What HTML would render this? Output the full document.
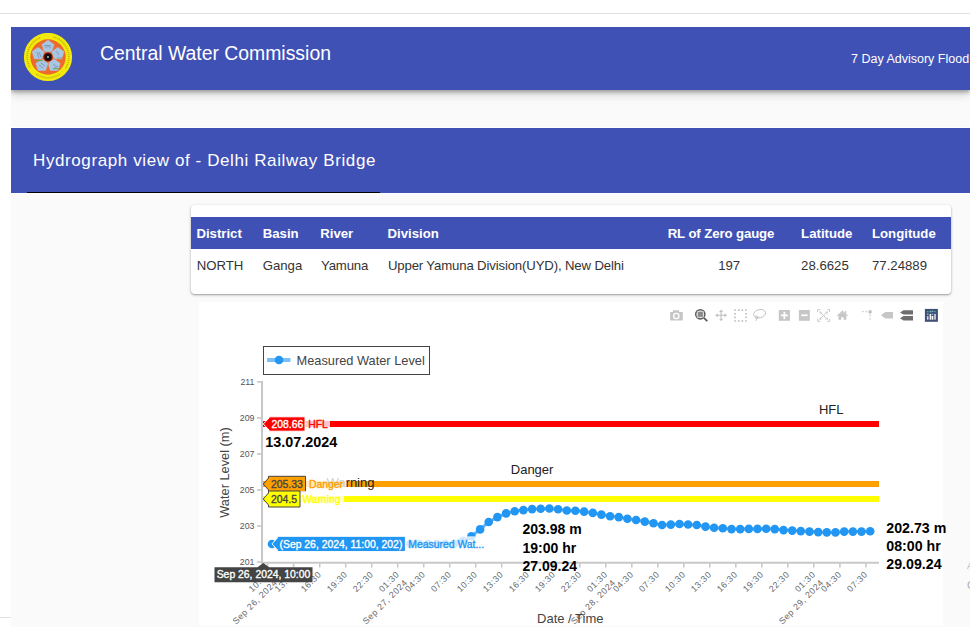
<!DOCTYPE html>
<html><head><meta charset="utf-8">
<style>
html,body{margin:0;padding:0;width:970px;height:644px;overflow:hidden;background:#fff;font-family:"Liberation Sans", sans-serif;}
.abs{position:absolute;}
#topline{left:0;top:13px;width:970px;height:1px;background:#dfe2e6;}
#botline{left:0;top:617px;width:11px;height:1px;background:#dfe2e6;}
#page{left:11px;top:27px;width:959px;height:600px;background:#fafafa;overflow:hidden;}
#hdr{left:0;top:0;width:959px;height:63px;background:#3f51b5;box-shadow:0 2px 4px rgba(0,0,0,0.3),0 5px 9px rgba(0,0,0,0.14);}
#title{left:100px;top:41px;color:#fff;font-size:19.4px;line-height:24px;white-space:nowrap;}
#adv{left:851px;top:51px;color:#fff;font-size:12.5px;line-height:16px;white-space:nowrap;}
#band{left:11px;top:128px;width:959px;height:65px;background:#3f51b5;}
#whiteA{left:11px;top:127px;width:959px;height:1px;background:#fff;}
#whiteB{left:11px;top:193px;width:959px;height:1px;background:#fff;}
#uline{left:27px;top:192px;width:353px;height:1px;background:#000;}
#htitle{left:33px;top:151px;color:#fff;font-size:17px;letter-spacing:0.6px;line-height:20px;white-space:nowrap;}
#card{left:191px;top:205px;width:760px;height:89px;background:#fff;border-radius:4px;box-shadow:0 1px 3px rgba(0,0,0,0.3),0 1px 1px rgba(0,0,0,0.12);}
#thead{left:191px;top:217px;width:760px;height:32px;background:#3f51b5;}
.th{position:absolute;top:225.5px;color:#fff;font-weight:bold;font-size:13.2px;line-height:16px;white-space:nowrap;}
.td{position:absolute;top:257.5px;color:#333;font-size:13.2px;line-height:16px;white-space:nowrap;}
svg text{font-family:"Liberation Sans", sans-serif;}
</style></head><body>
<div class="abs" id="topline"></div>
<div class="abs" id="page"><div class="abs" id="hdr"></div></div>
<div class="abs" id="botline"></div>
<svg class="abs" style="left:23px;top:33px" width="50" height="49" viewBox="0 0 50 49">
  <circle cx="25" cy="24" r="24.1" fill="#f2ea0a"/>
  <path d="M30.38,3.91 A20.8,20.8 0 0 1 42.04,35.93 M36.93,41.04 A20.8,20.8 0 0 1 13.07,41.04 M6.99,34.40 A20.8,20.8 0 0 1 17.89,4.45" fill="none" stroke="#8a6a10" stroke-width="1.5" stroke-dasharray="1.1 0.9" opacity="0.45"/>
  <circle cx="25" cy="24" r="17.7" fill="#ee6a2c"/>
  <g fill="#a8c6e2" stroke="#ee6a2c" stroke-width="0.6"><polygon points="25.00,6.60 31.66,11.44 29.11,19.26 20.89,19.26 18.34,11.44"/><polygon points="41.55,18.62 39.01,26.45 30.78,26.45 28.23,18.62 34.89,13.79"/><polygon points="35.23,38.08 27.00,38.08 24.46,30.25 31.11,25.41 37.77,30.25"/><polygon points="14.77,38.08 12.23,30.25 18.89,25.41 25.54,30.25 23.00,38.08"/><polygon points="8.45,18.62 15.11,13.79 21.77,18.62 19.22,26.45 10.99,26.45"/></g>
  <g fill="none" stroke="#5f7f99" stroke-width="0.8" opacity="0.7">
    <path d="M21,12.5 h7 M22,15 l3,-2 l3,2"/>
    <path d="M33,18 l3,4 M34,25 h5"/>
    <path d="M30,31 l4,3 M31,35 l4,-2"/>
    <path d="M16,32 l4,3 M18,30 l4,3"/>
    <path d="M14,19 l2,6 M16,19 l2,5"/>
  </g>
  <g fill="#6aa84f" opacity="0.8"><rect x="12.5" y="27" width="7" height="1.3"/><rect x="30" y="35" width="6" height="1.3"/></g>
  <circle cx="25" cy="24" r="4.6" fill="#7a140c"/>
  <circle cx="25" cy="24" r="3.4" fill="#111"/>
  <circle cx="25" cy="24" r="0.9" fill="#ccc"/>
</svg>
<div class="abs" id="title">Central Water Commission</div>
<div class="abs" id="adv">7 Day Advisory Flood</div>
<div class="abs" id="whiteA"></div>
<div class="abs" id="band"></div>
<div class="abs" id="uline"></div>
<div class="abs" id="whiteB"></div>
<div class="abs" id="htitle">Hydrograph view of - Delhi Railway Bridge</div>
<div class="abs" id="card"></div>
<div class="abs" id="thead"></div>
<div class="th" style="left:196.4px;letter-spacing:0px">District</div>
<div class="th" style="left:262.7px;letter-spacing:0px">Basin</div>
<div class="th" style="left:320.2px;letter-spacing:0px">River</div>
<div class="th" style="left:387.6px;letter-spacing:0px">Division</div>
<div class="th" style="left:667.7px;letter-spacing:-0.1px">RL of Zero gauge</div>
<div class="th" style="left:801.1px;letter-spacing:0px">Latitude</div>
<div class="th" style="left:872.0px;letter-spacing:0px">Longitude</div>
<div class="td" style="left:196.7px;letter-spacing:0px">NORTH</div>
<div class="td" style="left:262.7px;letter-spacing:0px">Ganga</div>
<div class="td" style="left:321.1px;letter-spacing:-0.2px">Yamuna</div>
<div class="td" style="left:387.9px;letter-spacing:-0.15px">Upper Yamuna Division(UYD), New Delhi</div>
<div class="td" style="left:718.2px;letter-spacing:0px">197</div>
<div class="td" style="left:801.1px;letter-spacing:0px">28.6625</div>
<div class="td" style="left:872.0px;letter-spacing:0px">77.24889</div>
<svg class="abs" style="left:0;top:0" width="970" height="644" viewBox="0 0 970 644">
<rect x="199" y="302" width="744" height="324" fill="#fff"/>
<line x1="262" y1="424.0" x2="879" y2="424.0" stroke="#ff0000" stroke-width="6"/>
<line x1="262" y1="484.0" x2="879" y2="484.0" stroke="#ff9f00" stroke-width="6"/>
<line x1="262" y1="499.0" x2="879" y2="499.0" stroke="#ffff00" stroke-width="6"/>
<polyline points="272.0,544.0 280.6,544.0 289.3,544.0 298.0,544.0 306.7,544.0 315.3,544.0 324.0,544.0 332.7,544.0 341.3,544.0 350.0,544.0 358.7,544.0 367.3,544.0 376.0,544.0 384.7,544.0 393.4,544.0 402.0,544.0 410.7,544.0 419.4,544.0 428.0,544.0 436.7,544.0 445.4,544.0 454.0,544.0 462.7,541.0 471.4,536.3 480.1,529.4 488.7,522.0 497.4,517.1 506.1,513.4 514.7,511.3 523.4,510.1 532.1,509.1 540.7,508.8 549.4,508.5 558.1,509.3 566.8,510.5 575.4,510.8 584.1,511.6 592.8,512.9 601.4,514.6 610.1,516.2 618.8,517.1 627.4,518.7 636.1,520.0 644.8,521.6 653.5,523.3 662.1,525.0 670.8,524.6 679.5,524.0 688.1,524.5 696.8,525.0 705.5,526.6 714.1,527.7 722.8,528.3 731.5,529.1 740.2,529.1 748.8,528.9 757.5,528.9 766.2,528.8 774.8,529.1 783.5,530.1 792.2,530.6 800.8,531.1 809.5,531.6 818.2,532.1 826.8,532.4 835.5,532.4 844.2,531.6 852.9,531.6 861.5,531.6 870.2,531.3" fill="none" stroke="#2196f3" stroke-opacity="0.7" stroke-width="3"/>
<circle cx="272.0" cy="544.0" r="4.3" fill="#2196f3"/>
<circle cx="280.6" cy="544.0" r="4.3" fill="#2196f3"/>
<circle cx="289.3" cy="544.0" r="4.3" fill="#2196f3"/>
<circle cx="298.0" cy="544.0" r="4.3" fill="#2196f3"/>
<circle cx="306.7" cy="544.0" r="4.3" fill="#2196f3"/>
<circle cx="315.3" cy="544.0" r="4.3" fill="#2196f3"/>
<circle cx="324.0" cy="544.0" r="4.3" fill="#2196f3"/>
<circle cx="332.7" cy="544.0" r="4.3" fill="#2196f3"/>
<circle cx="341.3" cy="544.0" r="4.3" fill="#2196f3"/>
<circle cx="350.0" cy="544.0" r="4.3" fill="#2196f3"/>
<circle cx="358.7" cy="544.0" r="4.3" fill="#2196f3"/>
<circle cx="367.3" cy="544.0" r="4.3" fill="#2196f3"/>
<circle cx="376.0" cy="544.0" r="4.3" fill="#2196f3"/>
<circle cx="384.7" cy="544.0" r="4.3" fill="#2196f3"/>
<circle cx="393.4" cy="544.0" r="4.3" fill="#2196f3"/>
<circle cx="402.0" cy="544.0" r="4.3" fill="#2196f3"/>
<circle cx="410.7" cy="544.0" r="4.3" fill="#2196f3"/>
<circle cx="419.4" cy="544.0" r="4.3" fill="#2196f3"/>
<circle cx="428.0" cy="544.0" r="4.3" fill="#2196f3"/>
<circle cx="436.7" cy="544.0" r="4.3" fill="#2196f3"/>
<circle cx="445.4" cy="544.0" r="4.3" fill="#2196f3"/>
<circle cx="454.0" cy="544.0" r="4.3" fill="#2196f3"/>
<circle cx="462.7" cy="541.0" r="4.3" fill="#2196f3"/>
<circle cx="471.4" cy="536.3" r="4.3" fill="#2196f3"/>
<circle cx="480.1" cy="529.4" r="4.3" fill="#2196f3"/>
<circle cx="488.7" cy="522.0" r="4.3" fill="#2196f3"/>
<circle cx="497.4" cy="517.1" r="4.3" fill="#2196f3"/>
<circle cx="506.1" cy="513.4" r="4.3" fill="#2196f3"/>
<circle cx="514.7" cy="511.3" r="4.3" fill="#2196f3"/>
<circle cx="523.4" cy="510.1" r="4.3" fill="#2196f3"/>
<circle cx="532.1" cy="509.1" r="4.3" fill="#2196f3"/>
<circle cx="540.7" cy="508.8" r="4.3" fill="#2196f3"/>
<circle cx="549.4" cy="508.5" r="4.3" fill="#2196f3"/>
<circle cx="558.1" cy="509.3" r="4.3" fill="#2196f3"/>
<circle cx="566.8" cy="510.5" r="4.3" fill="#2196f3"/>
<circle cx="575.4" cy="510.8" r="4.3" fill="#2196f3"/>
<circle cx="584.1" cy="511.6" r="4.3" fill="#2196f3"/>
<circle cx="592.8" cy="512.9" r="4.3" fill="#2196f3"/>
<circle cx="601.4" cy="514.6" r="4.3" fill="#2196f3"/>
<circle cx="610.1" cy="516.2" r="4.3" fill="#2196f3"/>
<circle cx="618.8" cy="517.1" r="4.3" fill="#2196f3"/>
<circle cx="627.4" cy="518.7" r="4.3" fill="#2196f3"/>
<circle cx="636.1" cy="520.0" r="4.3" fill="#2196f3"/>
<circle cx="644.8" cy="521.6" r="4.3" fill="#2196f3"/>
<circle cx="653.5" cy="523.3" r="4.3" fill="#2196f3"/>
<circle cx="662.1" cy="525.0" r="4.3" fill="#2196f3"/>
<circle cx="670.8" cy="524.6" r="4.3" fill="#2196f3"/>
<circle cx="679.5" cy="524.0" r="4.3" fill="#2196f3"/>
<circle cx="688.1" cy="524.5" r="4.3" fill="#2196f3"/>
<circle cx="696.8" cy="525.0" r="4.3" fill="#2196f3"/>
<circle cx="705.5" cy="526.6" r="4.3" fill="#2196f3"/>
<circle cx="714.1" cy="527.7" r="4.3" fill="#2196f3"/>
<circle cx="722.8" cy="528.3" r="4.3" fill="#2196f3"/>
<circle cx="731.5" cy="529.1" r="4.3" fill="#2196f3"/>
<circle cx="740.2" cy="529.1" r="4.3" fill="#2196f3"/>
<circle cx="748.8" cy="528.9" r="4.3" fill="#2196f3"/>
<circle cx="757.5" cy="528.9" r="4.3" fill="#2196f3"/>
<circle cx="766.2" cy="528.8" r="4.3" fill="#2196f3"/>
<circle cx="774.8" cy="529.1" r="4.3" fill="#2196f3"/>
<circle cx="783.5" cy="530.1" r="4.3" fill="#2196f3"/>
<circle cx="792.2" cy="530.6" r="4.3" fill="#2196f3"/>
<circle cx="800.8" cy="531.1" r="4.3" fill="#2196f3"/>
<circle cx="809.5" cy="531.6" r="4.3" fill="#2196f3"/>
<circle cx="818.2" cy="532.1" r="4.3" fill="#2196f3"/>
<circle cx="826.8" cy="532.4" r="4.3" fill="#2196f3"/>
<circle cx="835.5" cy="532.4" r="4.3" fill="#2196f3"/>
<circle cx="844.2" cy="531.6" r="4.3" fill="#2196f3"/>
<circle cx="852.9" cy="531.6" r="4.3" fill="#2196f3"/>
<circle cx="861.5" cy="531.6" r="4.3" fill="#2196f3"/>
<circle cx="870.2" cy="531.3" r="4.3" fill="#2196f3"/>
<line x1="262" y1="381" x2="262" y2="564" stroke="#c8c8c8" stroke-width="2"/>
<line x1="261" y1="562.8" x2="879" y2="562.8" stroke="#c8c8c8" stroke-width="2"/>
<line x1="257" y1="381.9" x2="262" y2="381.9" stroke="#c8c8c8" stroke-width="1.6"/>
<text x="254.5" y="385.0" text-anchor="end" font-size="8.8" fill="#555">211</text>
<line x1="257" y1="417.9" x2="262" y2="417.9" stroke="#c8c8c8" stroke-width="1.6"/>
<text x="254.5" y="421.0" text-anchor="end" font-size="8.8" fill="#555">209</text>
<line x1="257" y1="453.9" x2="262" y2="453.9" stroke="#c8c8c8" stroke-width="1.6"/>
<text x="254.5" y="457.0" text-anchor="end" font-size="8.8" fill="#555">207</text>
<line x1="257" y1="490.0" x2="262" y2="490.0" stroke="#c8c8c8" stroke-width="1.6"/>
<text x="254.5" y="493.1" text-anchor="end" font-size="8.8" fill="#555">205</text>
<line x1="257" y1="526.0" x2="262" y2="526.0" stroke="#c8c8c8" stroke-width="1.6"/>
<text x="254.5" y="529.1" text-anchor="end" font-size="8.8" fill="#555">203</text>
<line x1="257" y1="562.0" x2="262" y2="562.0" stroke="#c8c8c8" stroke-width="1.6"/>
<text x="254.5" y="565.1" text-anchor="end" font-size="8.8" fill="#555">201</text>
<line x1="267.6" y1="563.5" x2="267.6" y2="567.5" stroke="#c8c8c8" stroke-width="1.6"/>
<text transform="translate(269.8,575) rotate(-45)" text-anchor="end" font-size="8.8" letter-spacing="0.55" fill="#666"><tspan x="0" dy="0">10:30</tspan><tspan x="0" dy="1.3em">Sep 26, 2024</tspan></text>
<line x1="293.6" y1="563.5" x2="293.6" y2="567.5" stroke="#c8c8c8" stroke-width="1.6"/>
<text transform="translate(295.8,575) rotate(-45)" text-anchor="end" font-size="8.8" letter-spacing="0.55" fill="#666"><tspan x="0" dy="0">13:30</tspan></text>
<line x1="319.7" y1="563.5" x2="319.7" y2="567.5" stroke="#c8c8c8" stroke-width="1.6"/>
<text transform="translate(321.9,575) rotate(-45)" text-anchor="end" font-size="8.8" letter-spacing="0.55" fill="#666"><tspan x="0" dy="0">16:30</tspan></text>
<line x1="345.7" y1="563.5" x2="345.7" y2="567.5" stroke="#c8c8c8" stroke-width="1.6"/>
<text transform="translate(347.9,575) rotate(-45)" text-anchor="end" font-size="8.8" letter-spacing="0.55" fill="#666"><tspan x="0" dy="0">19:30</tspan></text>
<line x1="371.7" y1="563.5" x2="371.7" y2="567.5" stroke="#c8c8c8" stroke-width="1.6"/>
<text transform="translate(373.9,575) rotate(-45)" text-anchor="end" font-size="8.8" letter-spacing="0.55" fill="#666"><tspan x="0" dy="0">22:30</tspan></text>
<line x1="397.7" y1="563.5" x2="397.7" y2="567.5" stroke="#c8c8c8" stroke-width="1.6"/>
<text transform="translate(399.9,575) rotate(-45)" text-anchor="end" font-size="8.8" letter-spacing="0.55" fill="#666"><tspan x="0" dy="0">01:30</tspan><tspan x="0" dy="1.3em">Sep 27, 2024</tspan></text>
<line x1="423.7" y1="563.5" x2="423.7" y2="567.5" stroke="#c8c8c8" stroke-width="1.6"/>
<text transform="translate(425.9,575) rotate(-45)" text-anchor="end" font-size="8.8" letter-spacing="0.55" fill="#666"><tspan x="0" dy="0">04:30</tspan></text>
<line x1="449.7" y1="563.5" x2="449.7" y2="567.5" stroke="#c8c8c8" stroke-width="1.6"/>
<text transform="translate(451.9,575) rotate(-45)" text-anchor="end" font-size="8.8" letter-spacing="0.55" fill="#666"><tspan x="0" dy="0">07:30</tspan></text>
<line x1="475.7" y1="563.5" x2="475.7" y2="567.5" stroke="#c8c8c8" stroke-width="1.6"/>
<text transform="translate(477.9,575) rotate(-45)" text-anchor="end" font-size="8.8" letter-spacing="0.55" fill="#666"><tspan x="0" dy="0">10:30</tspan></text>
<line x1="501.7" y1="563.5" x2="501.7" y2="567.5" stroke="#c8c8c8" stroke-width="1.6"/>
<text transform="translate(503.9,575) rotate(-45)" text-anchor="end" font-size="8.8" letter-spacing="0.55" fill="#666"><tspan x="0" dy="0">13:30</tspan></text>
<line x1="527.7" y1="563.5" x2="527.7" y2="567.5" stroke="#c8c8c8" stroke-width="1.6"/>
<text transform="translate(529.9,575) rotate(-45)" text-anchor="end" font-size="8.8" letter-spacing="0.55" fill="#666"><tspan x="0" dy="0">16:30</tspan></text>
<line x1="553.7" y1="563.5" x2="553.7" y2="567.5" stroke="#c8c8c8" stroke-width="1.6"/>
<text transform="translate(555.9,575) rotate(-45)" text-anchor="end" font-size="8.8" letter-spacing="0.55" fill="#666"><tspan x="0" dy="0">19:30</tspan></text>
<line x1="579.8" y1="563.5" x2="579.8" y2="567.5" stroke="#c8c8c8" stroke-width="1.6"/>
<text transform="translate(582.0,575) rotate(-45)" text-anchor="end" font-size="8.8" letter-spacing="0.55" fill="#666"><tspan x="0" dy="0">22:30</tspan></text>
<line x1="605.8" y1="563.5" x2="605.8" y2="567.5" stroke="#c8c8c8" stroke-width="1.6"/>
<text transform="translate(608.0,575) rotate(-45)" text-anchor="end" font-size="8.8" letter-spacing="0.55" fill="#666"><tspan x="0" dy="0">01:30</tspan><tspan x="0" dy="1.3em">Sep 28, 2024</tspan></text>
<line x1="631.8" y1="563.5" x2="631.8" y2="567.5" stroke="#c8c8c8" stroke-width="1.6"/>
<text transform="translate(634.0,575) rotate(-45)" text-anchor="end" font-size="8.8" letter-spacing="0.55" fill="#666"><tspan x="0" dy="0">04:30</tspan></text>
<line x1="657.8" y1="563.5" x2="657.8" y2="567.5" stroke="#c8c8c8" stroke-width="1.6"/>
<text transform="translate(660.0,575) rotate(-45)" text-anchor="end" font-size="8.8" letter-spacing="0.55" fill="#666"><tspan x="0" dy="0">07:30</tspan></text>
<line x1="683.8" y1="563.5" x2="683.8" y2="567.5" stroke="#c8c8c8" stroke-width="1.6"/>
<text transform="translate(686.0,575) rotate(-45)" text-anchor="end" font-size="8.8" letter-spacing="0.55" fill="#666"><tspan x="0" dy="0">10:30</tspan></text>
<line x1="709.8" y1="563.5" x2="709.8" y2="567.5" stroke="#c8c8c8" stroke-width="1.6"/>
<text transform="translate(712.0,575) rotate(-45)" text-anchor="end" font-size="8.8" letter-spacing="0.55" fill="#666"><tspan x="0" dy="0">13:30</tspan></text>
<line x1="735.8" y1="563.5" x2="735.8" y2="567.5" stroke="#c8c8c8" stroke-width="1.6"/>
<text transform="translate(738.0,575) rotate(-45)" text-anchor="end" font-size="8.8" letter-spacing="0.55" fill="#666"><tspan x="0" dy="0">16:30</tspan></text>
<line x1="761.8" y1="563.5" x2="761.8" y2="567.5" stroke="#c8c8c8" stroke-width="1.6"/>
<text transform="translate(764.0,575) rotate(-45)" text-anchor="end" font-size="8.8" letter-spacing="0.55" fill="#666"><tspan x="0" dy="0">19:30</tspan></text>
<line x1="787.8" y1="563.5" x2="787.8" y2="567.5" stroke="#c8c8c8" stroke-width="1.6"/>
<text transform="translate(790.0,575) rotate(-45)" text-anchor="end" font-size="8.8" letter-spacing="0.55" fill="#666"><tspan x="0" dy="0">22:30</tspan></text>
<line x1="813.8" y1="563.5" x2="813.8" y2="567.5" stroke="#c8c8c8" stroke-width="1.6"/>
<text transform="translate(816.0,575) rotate(-45)" text-anchor="end" font-size="8.8" letter-spacing="0.55" fill="#666"><tspan x="0" dy="0">01:30</tspan><tspan x="0" dy="1.3em">Sep 29, 2024</tspan></text>
<line x1="839.9" y1="563.5" x2="839.9" y2="567.5" stroke="#c8c8c8" stroke-width="1.6"/>
<text transform="translate(842.1,575) rotate(-45)" text-anchor="end" font-size="8.8" letter-spacing="0.55" fill="#666"><tspan x="0" dy="0">04:30</tspan></text>
<line x1="865.9" y1="563.5" x2="865.9" y2="567.5" stroke="#c8c8c8" stroke-width="1.6"/>
<text transform="translate(868.1,575) rotate(-45)" text-anchor="end" font-size="8.8" letter-spacing="0.55" fill="#666"><tspan x="0" dy="0">07:30</tspan></text>
<text x="603.5" y="622.6" text-anchor="end" font-size="13" fill="#444">Date / Time</text>
<text transform="translate(229.2,472.5) rotate(-90)" text-anchor="middle" font-size="12.8" fill="#444">Water Level (m)</text>
<text x="831.2" y="413.7" text-anchor="middle" font-size="13" fill="#222">HFL</text>
<text x="532.1" y="473.9" text-anchor="middle" font-size="13" fill="#222">Danger</text>
<text x="350.5" y="487" text-anchor="middle" font-size="13" fill="#222">Warning</text>
<text x="522.5" y="534.4" font-size="14" font-weight="bold" fill="#000"><tspan x="522.5">203.98 m</tspan><tspan x="522.5" dy="18.1">19:00 hr</tspan><tspan x="522.5" dy="18.1">27.09.24</tspan></text>
<text x="886.3" y="532.9" font-size="14.2" font-weight="bold" fill="#000"><tspan x="886.3">202.73 m</tspan><tspan x="886.3" dy="17.9">08:00 hr</tspan><tspan x="886.3" dy="17.9">29.09.24</tspan></text>
<text x="265.2" y="446.9" font-size="14.4" font-weight="bold" fill="#000">13.07.2024</text>
<rect x="263.5" y="346.5" width="166" height="28" fill="#fff" stroke="#444" stroke-width="1"/>
<line x1="267" y1="360" x2="290.5" y2="360" stroke="#2196f3" stroke-opacity="0.6" stroke-width="4"/>
<circle cx="279" cy="360" r="4.3" fill="#2196f3"/>
<text x="296.5" y="364.8" font-size="12.8" fill="#444">Measured Water Level</text>
<rect x="305.0" y="416.8" width="25.0" height="14.5" fill="#fff" fill-opacity="0.78"/>
<path d="M263.3,424.0 L269.0,418.0 V416.8 H305.0 V431.2 H269.0 V430.0 Z" fill="#ff0000" stroke="#fff" stroke-width="1"/>
<text x="271.5" y="427.7" font-size="10.4" fill="#fff" stroke="#fff" stroke-width="0.35">208.66</text>
<text x="308.2" y="427.7" font-size="10.4" fill="#ff0000" stroke="#ff0000" stroke-width="0.35">HFL</text>
<rect x="305.5" y="476.3" width="41.0" height="15.5" fill="#fff" fill-opacity="0.78"/>
<path d="M263.3,484.0 L268.5,478.0 V476.3 H305.5 V491.8 H268.5 V490.0 Z" fill="#ff9f00" stroke="#444" stroke-width="1"/>
<text x="271.0" y="487.7" font-size="10.4" fill="#444" stroke="#444" stroke-width="0.35">205.33</text>
<text x="308.9" y="487.7" font-size="10.4" fill="#ff9f00" stroke="#ff9f00" stroke-width="0.35">Danger</text>
<rect x="300.0" y="491.0" width="44.0" height="16.0" fill="#fff" fill-opacity="0.78"/>
<path d="M263.3,499.0 L268.5,493.0 V491.0 H300.0 V507.0 H268.5 V505.0 Z" fill="#ffff00" stroke="#444" stroke-width="1"/>
<text x="271.0" y="502.7" font-size="10.4" fill="#444" stroke="#444" stroke-width="0.35">204.5</text>
<text x="302.2" y="502.7" font-size="10.4" fill="#ffff00" stroke="#ffff00" stroke-width="0.35">Warning</text>
<rect x="405.4" y="536.3" width="80" height="15.5" fill="#fff" fill-opacity="0.78"/>
<path d="M272,543.9 L277.4,537.9 V536.3 H405.4 V551.6 H277.4 V549.9 Z" fill="#2196f3" stroke="#fff"/>
<text x="279.5" y="547.6" font-size="10.4" fill="#fff" stroke="#fff" stroke-width="0.35">(Sep 26, 2024, 11:00, 202)</text>
<text x="408.3" y="547.6" font-size="10.4" fill="#2196f3" stroke="#2196f3" stroke-width="0.35">Measured Wat...</text>
<path d="M263.3,563 L257.5,567.3 H214.5 V582.3 H312.5 V567.3 H269.1 Z" fill="#444"/>
<text x="263.5" y="578.3" text-anchor="middle" font-size="10.4" fill="#fff" stroke="#fff" stroke-width="0.35">Sep 26, 2024, 10:00</text>
<text x="967" y="568.8" font-size="8.5" fill="#b0b0b0">A</text>
<text x="967" y="589" font-size="11" fill="#b0b0b0">C</text>
<g id="modebar">
<!-- camera -->
<g fill="#c6c6c6">
<rect x="670.1" y="311.9" width="12.7" height="8.6" rx="0.6"/>
<rect x="672.9" y="310.2" width="6.3" height="2.5" rx="0.5"/>
</g>
<circle cx="676.3" cy="316" r="2.7" fill="none" stroke="#fff" stroke-width="1.3"/>
<!-- zoom (active) -->
<g>
<circle cx="700.3" cy="314.3" r="4.6" fill="none" stroke="#5a5a5a" stroke-width="1.5"/>
<rect x="697.4" y="311.4" width="5.8" height="5.8" fill="#8a8a8a" stroke="#d8d8d8" stroke-width="0.7"/>
<line x1="703.8" y1="317.8" x2="707.3" y2="321.2" stroke="#5a5a5a" stroke-width="1.8"/>
</g>
<!-- pan -->
<g stroke="#c4c4c4" stroke-width="1.2" fill="#c4c4c4">
<line x1="721.1" y1="311" x2="721.1" y2="320"/>
<line x1="716.5" y1="315.3" x2="725.7" y2="315.3"/>
<path d="M721.1,309.4 L719,312 H723.2Z M721.1,321.3 L719,318.7 H723.2Z M715.1,315.3 L717.7,313.2 V317.4Z M727.1,315.3 L724.5,313.2 V317.4Z" stroke="none"/>
</g>
<!-- box select -->
<g fill="#b4b4b4"><rect x="734.3" y="309.4" width="1.5" height="1.5"/><rect x="734.3" y="313" width="1.5" height="1.5"/><rect x="734.3" y="316.6" width="1.5" height="1.5"/><rect x="734.3" y="320.2" width="1.5" height="1.5"/><rect x="738" y="309.4" width="1.5" height="1.5"/><rect x="738" y="320.2" width="1.5" height="1.5"/><rect x="741.6" y="309.4" width="1.5" height="1.5"/><rect x="741.6" y="320.2" width="1.5" height="1.5"/><rect x="745.2" y="309.4" width="1.5" height="1.5"/><rect x="745.2" y="313" width="1.5" height="1.5"/><rect x="745.2" y="316.6" width="1.5" height="1.5"/><rect x="745.2" y="320.2" width="1.5" height="1.5"/></g>
<!-- lasso -->
<g fill="none" stroke="#c0c0c0" stroke-width="0.9">
<ellipse cx="759.6" cy="313.7" rx="6" ry="4.1" transform="rotate(-12 759.6 313.7)"/>
<circle cx="756.8" cy="317.2" r="1.3"/>
<path d="M756.5,318.6 L755.9,320.9"/>
</g>
<!-- zoom in -->
<rect x="778.8" y="310" width="11.1" height="10.8" fill="#c6c6c6"/>
<path d="M784.35,311.8 V319 M780.8,315.4 H787.9" stroke="#fff" stroke-width="1.8"/>
<!-- zoom out -->
<rect x="798.9" y="310" width="10.9" height="10.8" fill="#c6c6c6"/>
<path d="M801.2,315.3 H807.6" stroke="#fff" stroke-width="1.8"/>
<!-- autoscale -->
<g fill="none" stroke="#c8c8c8" stroke-width="1">
<path d="M817.6,312 V309.6 H820.2 M827.3,309.6 H829.6 V312 M829.6,318.9 V321.3 H827.3 M820.2,321.3 H817.6 V318.9"/>
<path d="M819.8,311.9 L827.4,319.3 M827.4,311.9 L819.8,319.3"/>
</g>
<g fill="#c8c8c8">
<path d="M819.4,311.5 L822,311.9 L819.9,314Z M827.8,311.5 L825.2,311.9 L827.3,314Z M819.4,319.7 L822,319.3 L819.9,317.2Z M827.8,319.7 L825.2,319.3 L827.3,317.2Z"/>
</g>
<!-- home -->
<g fill="#c6c6c6">
<path d="M836.9,315.6 L842.4,310.6 L847.9,315.6 L847.1,316.3 L842.4,312.1 L837.7,316.3Z"/>
<path d="M838.5,315.3 L842.4,311.9 L846.3,315.3 V319.8 H843.6 V317.2 H841.2 V319.8 H838.5Z"/>
<rect x="845" y="310.9" width="1.2" height="2.8"/>
</g>
<!-- spikelines -->
<g fill="#c2c2c2">
<rect x="862.2" y="310.9" width="1.3" height="1.3"/>
<rect x="865.6" y="310.9" width="1.3" height="1.3"/>
<circle cx="870.1" cy="311.9" r="1.8"/>
<rect x="869.4" y="314.8" width="1.3" height="1.3"/>
<rect x="869.4" y="318.2" width="1.3" height="1.3"/>
</g>
<!-- hover closest -->
<path d="M880.9,315.2 L885.3,311.9 H893 V318.5 H885.3Z" fill="#c6c6c6"/>
<!-- hover compare (active) -->
<path d="M900,312.4 L903.5,310.2 H913 V314.5 H903.5Z M900,318.2 L903.5,315.9 H913 V320.6 H903.5Z" fill="#6f6f6f"/>
<!-- plotly logo -->
<rect x="924.9" y="308.9" width="13" height="12.9" fill="#3f4f75"/>
<g>
<rect x="926.9" y="316.2" width="1.6" height="3.5" fill="#d8d4dc"/>
<rect x="929.6" y="314" width="1.6" height="5.7" fill="#f2f2f4"/>
<rect x="931.7" y="316" width="1.6" height="3.7" fill="#fff"/>
<rect x="934.2" y="314" width="1.6" height="5.7" fill="#dcd8de"/>
</g>
<g fill="#6fc7b4">
<rect x="926.9" y="311" width="1.6" height="1.3" opacity="0.6"/><rect x="929.6" y="311" width="1.6" height="1.3"/><rect x="931.7" y="310.7" width="1.6" height="1.3"/><rect x="934.2" y="311" width="1.6" height="1.3" opacity="0.6"/>
<rect x="926.9" y="313.6" width="1.6" height="1.3"/><rect x="931.7" y="313.6" width="1.6" height="1.3" fill="#7fb0d8"/>
</g>
</g>

</svg>
</body></html>
